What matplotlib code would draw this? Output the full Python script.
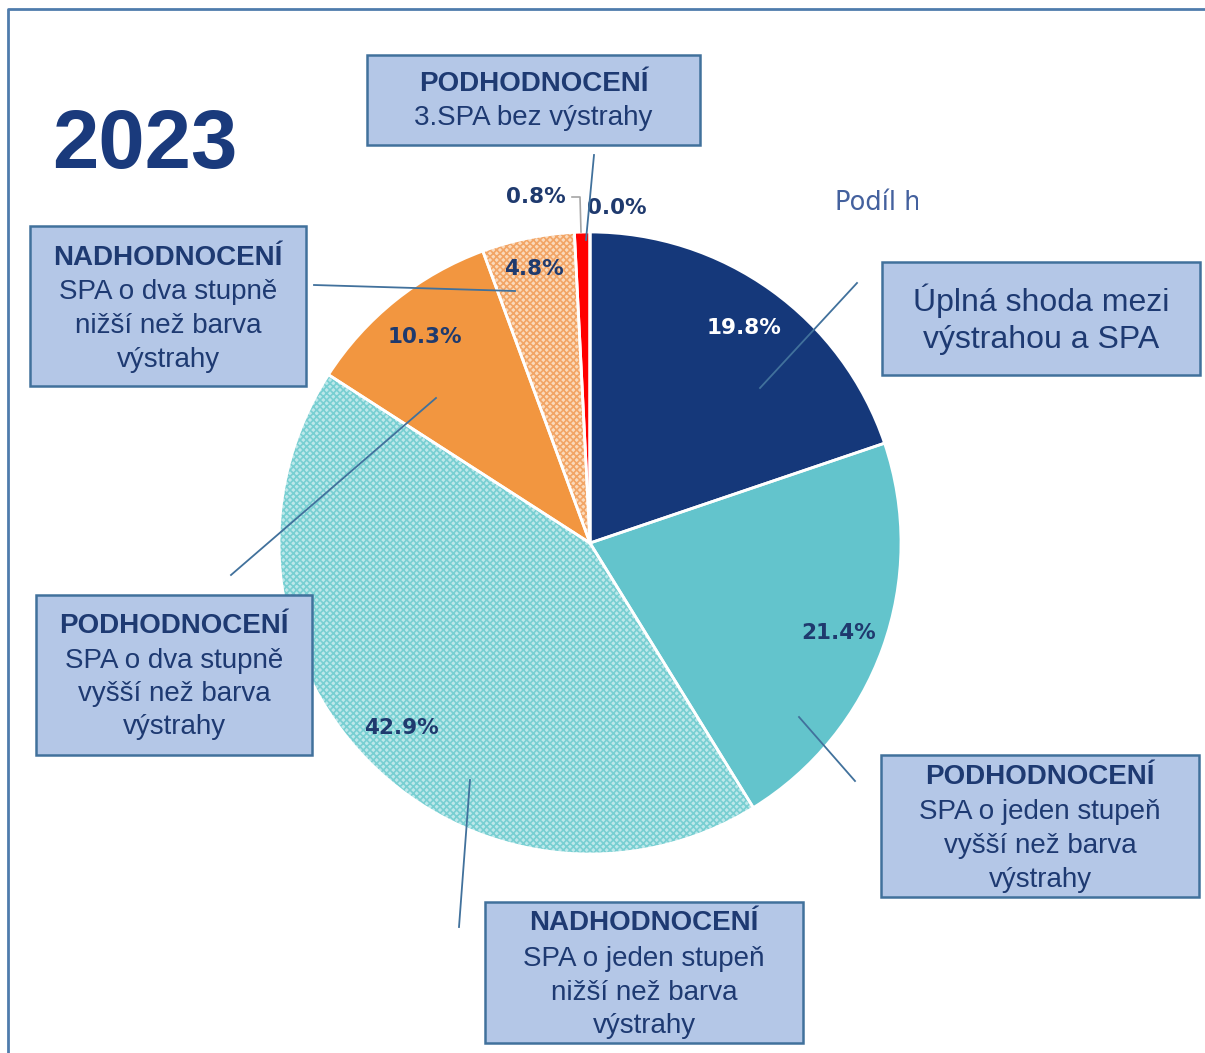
import matplotlib.pyplot as plt
import numpy as np
from matplotlib.patches import Rectangle

plt.rcParams["font.family"] = "Liberation Sans"
plt.rcParams["hatch.linewidth"] = 1.2

# data (share of cases, %), clockwise from 12 o'clock
values = [19.8, 21.4, 42.9, 10.3, 4.8, 0.8, 0.0]
pct_labels = ["19.8%", "21.4%", "42.9%", "10.3%", "4.8%", "0.8%", "0.0%"]
face_colors = ["#15387a", "#63c4cc", "#bde8ea", "#f29640", "#fbdabb", "#ff0000", "#ff0000"]
hatch_colors = ["#15387a", "#63c4cc", "#78cfd2", "#f29640", "#f2a566", "#ff0000", "#ff0000"]
hatches = [None, None, "xxxxx", None, "xxxxx", None, None]
label_dist = [0.85, 0.85, 0.85, 0.85, 0.90, 1.125, 1.08]
label_color = ["white", "#1f3a6e", "#1f3a6e", "#1f3a6e", "#1f3a6e", "#1f3a6e", "#1f3a6e"]

navy = "#1e3a72"
box_face = "#b4c7e7"
box_edge = "#41719c"

W, H = 1205, 1053
fig = plt.figure(figsize=(W / 100, H / 100), dpi=100)
ax = fig.add_axes([0, 0, 1, 1])


def Y(y):
    # pixel row -> data y
    return H - y


cx, cy, R = 590, Y(543), 311

# fill + hatch layer
wedges, _ = ax.pie(values, colors=face_colors, startangle=90, counterclock=False,
                   center=(cx, cy), radius=R, frame=True,
                   wedgeprops=dict(linewidth=0))
for w, h, hc in zip(wedges, hatches, hatch_colors):
    w.set_edgecolor(hc)
    if h:
        w.set_hatch(h)
# white separators on top
ax.pie(values, colors=["none"] * len(values), startangle=90, counterclock=False,
       center=(cx, cy), radius=R, frame=True,
       wedgeprops=dict(linewidth=2, edgecolor="white", fill=False))
ax.set_xlim(0, W)
ax.set_ylim(0, H)
ax.set_aspect("equal")
ax.axis("off")

# percentage labels
for w, txt, d, c in zip(wedges, pct_labels, label_dist, label_color):
    ang = np.deg2rad((w.theta1 + w.theta2) / 2)
    if txt == "0.8%":
        ang = np.deg2rad(98.9)
    if txt == "0.0%":
        ang = np.deg2rad(85.4)
    ax.text(cx + d * R * np.cos(ang), cy + d * R * np.sin(ang), txt,
            ha="center", va="center", fontsize=15.5, fontweight="bold",
            color=c, family="DejaVu Sans")

# grey leader for 0.8%
ax.plot([572, 580, 581], [Y(197), Y(197), Y(232)], color="#a6a6a6", lw=1.2)

# outer frame (top and left edges only visible)
ax.plot([8, 8, W], [0, Y(9), Y(9)], color="#4f7cac", lw=2, solid_capstyle="butt")

# title
ax.text(52, Y(146), "2023", fontsize=60, fontweight="bold", color="#1a3a7c",
        ha="left", va="center")

# clipped series title
clip = Rectangle((830, Y(230)), 88, 50, transform=ax.transData)
t = ax.text(835, Y(203), "Podíl hodnocení", fontsize=18.5, color="#44619e",
            family="DejaVu Sans", ha="left", va="center", clip_on=True)
t.set_clip_path(clip)

# annotation boxes: (x0, y0, x1, y1), lines, line centres, bold first line, fontsize
boxes = [
    ((367, 55, 700, 145), ["PODHODNOCENÍ", "3.SPA bez výstrahy"], [84, 118], True, 20),
    ((30, 226, 306, 386), ["NADHODNOCENÍ", "SPA o dva stupně", "nižší než barva", "výstrahy"],
     [258, 292, 326, 360], True, 20),
    ((882, 262, 1200, 375), ["Úplná shoda mezi", "výstrahou a SPA"], [301, 340], False, 23),
    ((36, 595, 312, 755), ["PODHODNOCENÍ", "SPA o dva stupně", "vyšší než barva", "výstrahy"],
     [626, 661, 694, 727], True, 20),
    ((881, 755, 1199, 897), ["PODHODNOCENÍ", "SPA o jeden stupeň", "vyšší než barva", "výstrahy"],
     [777, 812, 846, 880], True, 20),
    ((485, 902, 803, 1043), ["NADHODNOCENÍ", "SPA o jeden stupeň", "nižší než barva", "výstrahy"],
     [923, 959, 993, 1026], True, 20),
]

# leader lines from boxes to slices
leaders = [
    ((594, 155), (586, 240)),
    ((314, 285), (515, 291)),
    ((857, 283), (760, 388)),
    ((231, 575), (436, 398)),
    ((855, 781), (799, 717)),
    ((459, 927), (470, 780)),
]
for (x0, y0), (x1, y1) in leaders:
    ax.plot([x0, x1], [Y(y0), Y(y1)], color=box_edge, lw=1.3, zorder=5)

for (x0, y0, x1, y1), lines, ys, bold_first, fs in boxes:
    ax.add_patch(Rectangle((x0, Y(y1)), x1 - x0, y1 - y0, facecolor=box_face,
                           edgecolor=box_edge, lw=1.8, zorder=6))
    xc = (x0 + x1) / 2
    for i, (line, yy) in enumerate(zip(lines, ys)):
        ax.text(xc, Y(yy), line, ha="center", va="center", fontsize=fs,
                fontweight="bold" if (bold_first and i == 0) else "normal",
                color=navy, zorder=7)

fig.savefig("out.png", dpi=100)
